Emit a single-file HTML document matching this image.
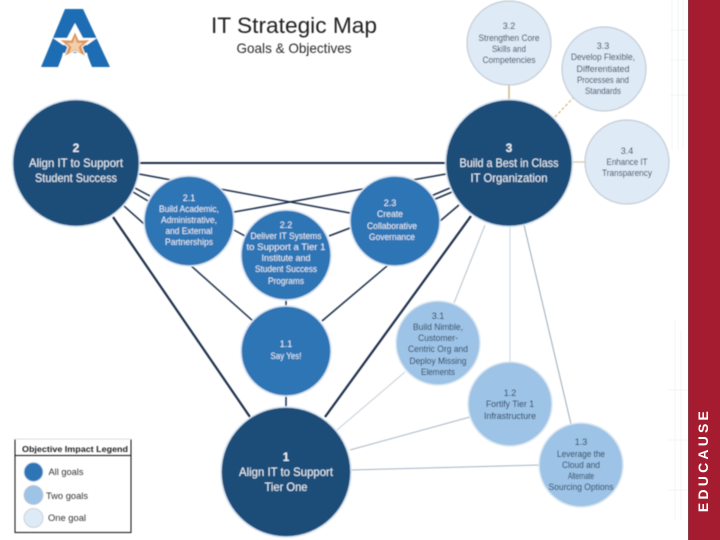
<!DOCTYPE html>
<html>
<head>
<meta charset="utf-8">
<style>
html,body{margin:0;padding:0;background:#fff;width:720px;height:540px;overflow:hidden}
svg{display:block}
text{font-family:"Liberation Sans",sans-serif;text-anchor:middle}
.w{fill:#e8f0f8}
.d{fill:#1f3550}
</style>
</head>
<body>
<svg width="720" height="540" viewBox="0 0 720 540" xmlns="http://www.w3.org/2000/svg">
<defs>
<filter id="b" x="-5%" y="-5%" width="110%" height="110%"><feGaussianBlur stdDeviation="0.45"/></filter>
</defs>
<rect width="720" height="540" fill="#fff"/>
<g stroke="#f3f4f5" stroke-width="1" fill="none">
<path d="M672 0V150M678 0V150M683 0V150M670 30H688M670 60H688M670 95H688M675 320V520M681 330V520M668 390H688M668 440H688M668 490H688"/>
</g>
<rect x="688" y="0" width="32" height="540" fill="#a51c30"/>
<rect x="688" y="0" width="1" height="540" fill="#8c3a48"/>
<text transform="translate(708,460) rotate(-90)" style="font-size:14px;font-weight:bold;letter-spacing:3.2px" fill="#fff">EDUCAUSE</text>

<g filter="url(#b)">
<!-- logo -->
<path d="M65 9H83L110 67H92L87 55H63L58 67H41Z" fill="#1a6db3"/>
<path d="M75 23L67 38H53L63 45H87L97 38H83Z" fill="#fff"/>
<path d="M63 53H87L90 67H60Z" fill="#fff"/>
<path d="M75 31L79 40L91 39.500L82 47L86 57L75 51L64 57L68 47L59 39.500L71 40Z" fill="#e0985a" stroke="#fff" stroke-width="1"/>
<path d="M75 37L77 43L83 43L78.500 47L80.500 53L75 49.500L69.500 53L71.500 47L67 43L73 43Z" fill="#f2cfa9"/>

<text x="294" y="33" style="font-size:22px" fill="#222" textLength="166" lengthAdjust="spacingAndGlyphs">IT Strategic Map</text>
<text x="294" y="53" style="font-size:14px" fill="#2a2a2a" textLength="115" lengthAdjust="spacingAndGlyphs">Goals &amp; Objectives</text>

<!-- light connectors -->
<g fill="none">
<path d="M485 225L454 303" stroke="#b4bfca" stroke-width="1"/>
<path d="M510 226V362" stroke="#ccd5de" stroke-width="1"/>
<path d="M524 225L571 424" stroke="#9aa9b8" stroke-width="1"/>
<path d="M337 430L405 372" stroke="#c6cfd8" stroke-width="1"/>
<path d="M350 450L470 417" stroke="#a9b6c4" stroke-width="1"/>
<path d="M351 470L540 465" stroke="#a4b4c4" stroke-width="1"/>
<path d="M509 85V102" stroke="#c9a46c" stroke-width="1.200"/>
<path d="M555 117L574 97" stroke="#d0a468" stroke-width="1" stroke-dasharray="3 2"/>
<path d="M572 162H586" stroke="#d8c3a0" stroke-width="1.200"/>
</g>

<!-- dark connectors -->
<g fill="none" stroke="#1c2d4a">
<path d="M139 163H446" stroke-width="2"/>
<path d="M139 174L350 213" stroke-width="1.500"/>
<path d="M234 212L446 174" stroke-width="1.500"/>
<path d="M135 188L150 196M133 192L148 201" stroke-width="1.500"/>
<path d="M124 206L253 321" stroke-width="1.500"/>
<path d="M234 230L245 236" stroke-width="1.500"/>
<path d="M329 236L350 228" stroke-width="1.500"/>
<path d="M431 196L450 188M433 200L452 192" stroke-width="1.500"/>
<path d="M459 205L322 321" stroke-width="1.500"/>
<path d="M286 298V310M286 394V410" stroke-width="1.500"/>
<path d="M113 217L250 417" stroke-width="2.200"/>
<path d="M471 216L325 417" stroke-width="2.200"/>
</g>

<!-- big circles -->
<g fill="#1f4e79" stroke="#d5e3f1" stroke-width="1.500">
<circle cx="76" cy="163" r="63.500"/>
<circle cx="509" cy="163" r="63.500"/>
<circle cx="286" cy="472" r="65"/>
</g>

<!-- medium circles -->
<g fill="#2e74b5" stroke="#d5e3f1" stroke-width="1.500">
<circle cx="189" cy="221" r="45"/>
<circle cx="286" cy="255" r="45"/>
<circle cx="395" cy="221" r="45"/>
<circle cx="286" cy="351" r="45"/>
</g>

<!-- light blue circles -->
<g fill="#9dc3e6" stroke="#dbe7f2" stroke-width="1.500">
<circle cx="438" cy="343" r="42"/>
<circle cx="510" cy="404" r="42"/>
<circle cx="581" cy="465" r="42"/>
</g>

<!-- pale circles -->
<g fill="#deeaf6" stroke="#c3ccd5" stroke-width="1.200">
<circle cx="509" cy="43" r="42"/>
<circle cx="604" cy="69" r="42"/>
<circle cx="627" cy="162" r="42"/>
</g>

<!-- big labels -->
<g style="font-size:12px" class="w">
<text class="w" x="76" y="152" font-weight="bold">2</text>
<text class="w" x="76" y="167" textLength="94" lengthAdjust="spacingAndGlyphs">Align IT to Support</text>
<text class="w" x="76" y="182" textLength="82" lengthAdjust="spacingAndGlyphs">Student Success</text>
<text class="w" x="509" y="152" font-weight="bold">3</text>
<text class="w" x="509" y="167" textLength="99" lengthAdjust="spacingAndGlyphs">Build a Best in Class</text>
<text class="w" x="509" y="182" textLength="77" lengthAdjust="spacingAndGlyphs">IT Organization</text>
<text class="w" x="286" y="461" font-weight="bold">1</text>
<text class="w" x="286" y="476" textLength="94" lengthAdjust="spacingAndGlyphs">Align IT to Support</text>
<text class="w" x="286" y="491" textLength="43" lengthAdjust="spacingAndGlyphs">Tier One</text>
</g>

<!-- medium labels -->
<g style="font-size:9px">
<text class="w" x="189" y="201">2.1</text>
<text class="w" x="189" y="212" textLength="60" lengthAdjust="spacingAndGlyphs">Build Academic,</text>
<text class="w" x="189" y="223" textLength="56" lengthAdjust="spacingAndGlyphs">Administrative,</text>
<text class="w" x="189" y="234" textLength="47" lengthAdjust="spacingAndGlyphs">and External</text>
<text class="w" x="189" y="245" textLength="48" lengthAdjust="spacingAndGlyphs">Partnerships</text>

<text class="w" x="286" y="228">2.2</text>
<text class="w" x="286" y="239" textLength="71" lengthAdjust="spacingAndGlyphs">Deliver IT Systems</text>
<text class="w" x="286" y="250" textLength="79" lengthAdjust="spacingAndGlyphs">to Support a Tier 1</text>
<text class="w" x="286" y="261" textLength="49" lengthAdjust="spacingAndGlyphs">Institute and</text>
<text class="w" x="286" y="272" textLength="62" lengthAdjust="spacingAndGlyphs">Student Success</text>
<text class="w" x="286" y="284" textLength="36" lengthAdjust="spacingAndGlyphs">Programs</text>

<text class="w" x="390" y="206">2.3</text>
<text class="w" x="390" y="217" textLength="26" lengthAdjust="spacingAndGlyphs">Create</text>
<text class="w" x="392" y="229" textLength="50" lengthAdjust="spacingAndGlyphs">Collaborative</text>
<text class="w" x="392" y="240" textLength="46" lengthAdjust="spacingAndGlyphs">Governance</text>

<text class="w" x="286" y="347">1.1</text>
<text class="w" x="286" y="359" textLength="31" lengthAdjust="spacingAndGlyphs">Say Yes!</text>

<text class="d" x="438" y="319">3.1</text>
<text class="d" x="438" y="330" textLength="50" lengthAdjust="spacingAndGlyphs">Build Nimble,</text>
<text class="d" x="438" y="341" textLength="40" lengthAdjust="spacingAndGlyphs">Customer-</text>
<text class="d" x="438" y="352" textLength="60" lengthAdjust="spacingAndGlyphs">Centric Org and</text>
<text class="d" x="438" y="364" textLength="57" lengthAdjust="spacingAndGlyphs">Deploy Missing</text>
<text class="d" x="438" y="375" textLength="34" lengthAdjust="spacingAndGlyphs">Elements</text>

<text class="d" x="510" y="396">1.2</text>
<text class="d" x="510" y="407" textLength="48" lengthAdjust="spacingAndGlyphs">Fortify Tier 1</text>
<text class="d" x="510" y="419" textLength="52" lengthAdjust="spacingAndGlyphs">Infrastructure</text>

<text class="d" x="581" y="445">1.3</text>
<text class="d" x="581" y="457" textLength="48" lengthAdjust="spacingAndGlyphs">Leverage the</text>
<text class="d" x="581" y="468" textLength="38" lengthAdjust="spacingAndGlyphs">Cloud and</text>
<text class="d" x="581" y="479" textLength="26" lengthAdjust="spacingAndGlyphs">Alternate</text>
<text class="d" x="581" y="490" textLength="65" lengthAdjust="spacingAndGlyphs">Sourcing Options</text>

<text class="d" x="509" y="29">3.2</text>
<text class="d" x="509" y="41" textLength="61" lengthAdjust="spacingAndGlyphs">Strengthen Core</text>
<text class="d" x="509" y="52" textLength="34" lengthAdjust="spacingAndGlyphs">Skills and</text>
<text class="d" x="509" y="63" textLength="53" lengthAdjust="spacingAndGlyphs">Competencies</text>

<text class="d" x="603" y="49">3.3</text>
<text class="d" x="603" y="60" textLength="64" lengthAdjust="spacingAndGlyphs">Develop Flexible,</text>
<text class="d" x="603" y="72" textLength="53" lengthAdjust="spacingAndGlyphs">Differentiated</text>
<text class="d" x="603" y="83" textLength="52" lengthAdjust="spacingAndGlyphs">Processes and</text>
<text class="d" x="603" y="94" textLength="36" lengthAdjust="spacingAndGlyphs">Standards</text>

<text class="d" x="627" y="154">3.4</text>
<text class="d" x="627" y="165" textLength="41" lengthAdjust="spacingAndGlyphs">Enhance IT</text>
<text class="d" x="627" y="176" textLength="50" lengthAdjust="spacingAndGlyphs">Transparency</text>
</g>

<!-- legend -->
<g fill="none" stroke="#111" stroke-width="1">
<path d="M15 439V532.500H131V439"/>
<path d="M15 455.500H131"/>
<path d="M15 439H131" stroke="#ddd"/>
</g>
<text x="75" y="452" style="font-size:8.500px;font-weight:bold" fill="#222" textLength="106" lengthAdjust="spacingAndGlyphs">Objective Impact Legend</text>
<circle cx="33.500" cy="472" r="9.500" fill="#2e74b5" stroke="#c8d8e8" stroke-width="0.800"/>
<circle cx="33.500" cy="495" r="9.500" fill="#9dc3e6" stroke="#c2c9d0" stroke-width="0.800"/>
<circle cx="33.500" cy="518" r="9.500" fill="#deeaf6" stroke="#c2c9d0" stroke-width="0.800"/>
<text x="66" y="475" style="font-size:9px" fill="#333" textLength="35" lengthAdjust="spacingAndGlyphs">All goals</text>
<text x="67" y="499" style="font-size:9px" fill="#333" textLength="42" lengthAdjust="spacingAndGlyphs">Two goals</text>
<text x="67" y="521" style="font-size:9px" fill="#333" textLength="38" lengthAdjust="spacingAndGlyphs">One goal</text>
</g>
</svg>
</body>
</html>
